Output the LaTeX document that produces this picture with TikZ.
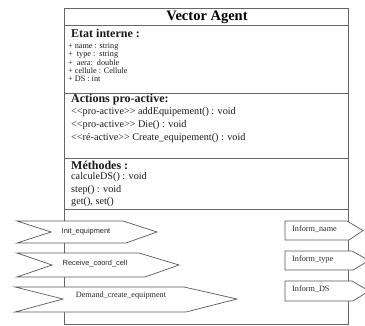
\documentclass[tikz,border=0pt]{standalone}
\usepackage{fontspec}
\setmainfont{Liberation Serif}
\setsansfont{Liberation Sans}
\begin{document}
\begin{tikzpicture}[x=1pt,y=-1pt,
  frame/.style={draw=black!60,line width=0.9pt},
  sep/.style={draw=black!60,line width=1pt},
  sig/.style={draw=black!65,line width=0.7pt,fill=white},
  txt/.style={anchor=west,inner sep=0pt,text=black!90},
  head/.style={txt,font=\fontsize{12}{12}\selectfont\bfseries},
  attr/.style={txt,font=\fontsize{8.2}{8.5}\selectfont},
  op/.style={txt,font=\fontsize{10.2}{11}\selectfont},
  slab/.style={inner sep=0pt,text=black!85,font=\sffamily\fontsize{7.4}{8}\selectfont},
  rlab/.style={inner sep=0pt,text=black!85,font=\fontsize{8.2}{9}\selectfont}]
\useasboundingbox (0,0) rectangle (365,325);
% frame
\draw[frame] (64,8) rectangle (348,324);
\coordinate (fl1) at (64,25); \coordinate (fr1) at (348,25);
\coordinate (fl2) at (64,93); \coordinate (fr2) at (348,93);
\coordinate (fl3) at (64,158); \coordinate (fr3) at (348,158);
\coordinate (fl4) at (64,209); \coordinate (fr4) at (348,209);
\draw[sep] (fl1) -- (fr1);
\draw[sep] (fl2) -- (fr2);
\draw[sep] (fl3) -- (fr3);
\draw[sep] (fl4) -- (fr4);
% title
\node[inner sep=0pt,font=\fontsize{14.5}{15}\selectfont\bfseries] (title) at (207,17) {Vector Agent};
% state
\node[head] (etat) at (71,33) {Etat interne :};
\node[attr] (a1) at (68,47) {+ name : string};
\node[attr] (a2) at (68,55) {+\ \ type :\ \ string};
\node[attr] (a3) at (68,63) {+\ \ aera:\ \ double};
\node[attr] (a4) at (68,71) {+ cellule : Cellule};
\node[attr] (a5) at (68,78.5) {+ DS : int};
% actions
\node[head] (act) at (71,100) {Actions pro-active:};
\node[op] (o1) at (71,112.5) {<{}<pro-active>{}> addEquipement() : void};
\node[op] (o2) at (71,125.5) {<{}<pro-active>{}> Die() : void};
\node[op] (o3) at (71,138) {<{}<ré-active>{}> Create\_equipement() : void};
% methods
\node[head] (meth) at (71,165) {Méthodes :};
\node[op] (m1) at (71,177.5) {calculeDS() : void};
\node[op] (m2) at (71,190) {step() : void};
\node[op] (m3) at (71,202) {get(), set()};
% receive signals (left)
\draw[sig] (17,221) -- (123,221) -- (157,232) -- (126,243) -- (17,243) -- (51,232) -- cycle;
\node[slab] (init) at (86,231.5) {Init\_equipment};
\draw[sig] (17,253) -- (139,253) -- (179,265) -- (145,277) -- (17,277) -- (52,265) -- cycle;
\node[slab] (recv) at (95,263.5) {Receive\_coord\_cell};
\draw[sig] (15,287) -- (184,287) -- (237,299) -- (186,312) -- (15,312) -- (63,299) -- cycle;
\node[rlab] (dem) at (121,296) {Demand\_create\_equipment};
% send signals (right)
\draw[sig] (285,221) -- (347,221) -- (363,230.5) -- (349,240) -- (285,240) -- cycle;
\node[rlab,anchor=west] (iname) at (292,229.5) {Inform\_name};
\draw[sig] (285,251) -- (352,251) -- (369,260.5) -- (353,270) -- (285,270) -- cycle;
\node[rlab,anchor=west] (itype) at (292,259.5) {Inform\_type};
\draw[sig] (285,281) -- (352,281) -- (369,291) -- (353,301) -- (285,301) -- cycle;
\node[rlab,anchor=west] (ids) at (292,289.5) {Inform\_DS};
\end{tikzpicture}
\end{document}
